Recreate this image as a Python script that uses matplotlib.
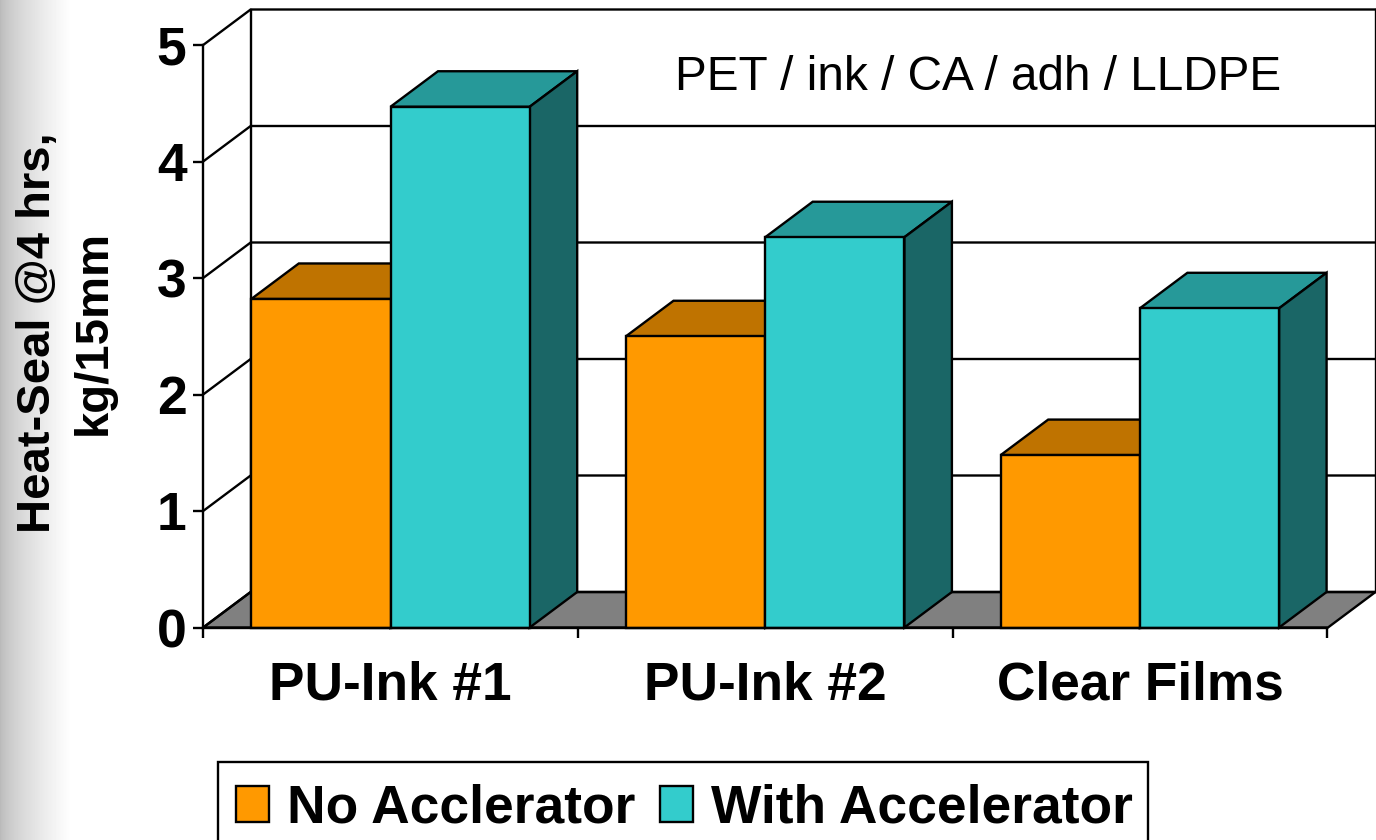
import numpy as np
import matplotlib
matplotlib.use("Agg")
import matplotlib.pyplot as plt
from matplotlib.patches import Polygon, Patch, Rectangle

plt.rcParams['font.family'] = ['Liberation Sans', 'DejaVu Sans']

categories = ["PU-Ink #1", "PU-Ink #2", "Clear Films"]
no_accel = [2.82, 2.50, 1.48]
with_accel = [4.47, 3.35, 2.74]
series_names = ["No Acclerator", "With Accelerator"]
y_ticks = [0, 1, 2, 3, 4, 5]
note = "PET / ink / CA / adh / LLDPE"

W, H = 1376, 840
x_unit = 374.7   # px per category
y_unit = 116.5   # px per value
x_zero = 390.5   # px of first category centre
y_zero = 627.5   # px of value 0
bar_w = 139.2 / x_unit
dx = 47.5 / x_unit
dy = 35.5 / y_unit
lw = 1.7
right_edge = (1375.5 - x_zero) / x_unit

fig = plt.figure(figsize=(W / 100, H / 100), dpi=100)

# grey shade on the slide edge
bg = fig.add_axes([0, 0, 72 / W, 1])
shade = np.linspace(0, 1, 72) ** 0.7
bg.imshow(np.array([0.73 + 0.27 * shade]), cmap='gray', vmin=0, vmax=1, aspect='auto')
bg.axis('off')

ax = fig.add_axes([0, 0, 1, 1])
ax.patch.set_visible(False)
ax.set_xlim(-x_zero / x_unit, (W - x_zero) / x_unit)
ax.set_ylim(-(H - y_zero) / y_unit, y_zero / y_unit)

x0 = -0.5

# floor
ax.add_patch(Polygon([(x0, 0), (x0 + dx, dy), (right_edge, dy), (right_edge - dx, 0)],
                     fc='#808080', ec='black', lw=lw, zorder=1))
# back wall and grid
for v in y_ticks:
    ax.plot([x0, x0 + dx, right_edge], [v, v + dy, v + dy], color='black', lw=lw,
            zorder=1, solid_joinstyle='miter')
ax.plot([x0 + dx, x0 + dx], [dy, 5 + dy], color='black', lw=lw, zorder=1)
ax.plot([right_edge, right_edge], [dy, 5 + dy], color='black', lw=lw, zorder=1)

xpos = np.arange(len(categories))


def box(x, val, front, top, side, z):
    ax.bar(x, val, bar_w, color=front, edgecolor='black', linewidth=lw, zorder=z + 0.2)
    l, r = x - bar_w / 2, x + bar_w / 2
    ax.add_patch(Polygon([(l, val), (l + dx, val + dy), (r + dx, val + dy), (r, val)],
                         fc=top, ec='black', lw=lw, zorder=z))
    ax.add_patch(Polygon([(r, 0), (r + dx, dy), (r + dx, val + dy), (r, val)],
                         fc=side, ec='black', lw=lw, zorder=z))


for i in xpos:
    box(i - bar_w / 2, no_accel[i], '#FF9900', '#BF7300', '#7F4C00', 2 + i)
    box(i + bar_w / 2, with_accel[i], '#33CCCC', '#269999', '#1A6666', 2.5 + i)

# axes lines and ticks
for s in ['top', 'right']:
    ax.spines[s].set_visible(False)
ax.spines['left'].set_position(('data', x0))
ax.spines['left'].set_bounds(0, 5)
ax.spines['bottom'].set_position(('data', 0))
ax.spines['bottom'].set_bounds(x0, 2.5)
ax.spines['left'].set_linewidth(lw)
ax.spines['bottom'].set_linewidth(lw)
ax.spines['left'].set_zorder(1.5)
ax.spines['bottom'].set_zorder(9)

ax.set_yticks(y_ticks)
ax.set_yticklabels([str(v) for v in y_ticks], fontsize=38.5, fontweight='bold')
ax.tick_params(axis='y', length=7.5, width=lw, pad=4.5)
ax.set_xticks([-0.5, 0.5, 1.5, 2.5])
ax.set_xticklabels([])
ax.tick_params(axis='x', which='major', length=7.5, width=lw)
ax.set_xticks(xpos, minor=True)
ax.set_xticklabels(categories, minor=True, fontsize=38.3, fontweight='bold')
ax.tick_params(axis='x', which='minor', length=0, pad=24)

ax.text(978 / W, 1 - 77 / H, note, transform=fig.transFigure, fontsize=34.4,
        ha='center', va='center', zorder=20)
ax.text(66 / W, 1 - 333 / H, "Heat-Seal @4 hrs,\nkg/15mm", transform=fig.transFigure,
        fontsize=34, fontweight='bold', rotation=90, ha='center', va='center',
        multialignment='center', linespacing=1.35)

# legend frame runs off the bottom of the slide
fig.add_artist(Rectangle((218 / W, -10 / H), 930 / W, (H + 10 - 762) / H, transform=fig.transFigure,
                         fc='white', ec='black', lw=lw, zorder=4))
handles = [Patch(fc='#FF9900', ec='black', lw=lw), Patch(fc='#33CCCC', ec='black', lw=lw)]
leg = ax.legend(handles, series_names, loc='upper left', bbox_to_anchor=(218 / W, 1 - 766 / H),
                bbox_transform=fig.transFigure, ncol=2, borderaxespad=0, frameon=False,
                prop={'size': 38.4, 'weight': 'bold'},
                handlelength=0.63, handleheight=0.66, handletextpad=0.33, columnspacing=0.46,
                borderpad=0.33)
leg.set_zorder(20)
ax.set_zorder(5)

fig.savefig('out.png', dpi=100)
